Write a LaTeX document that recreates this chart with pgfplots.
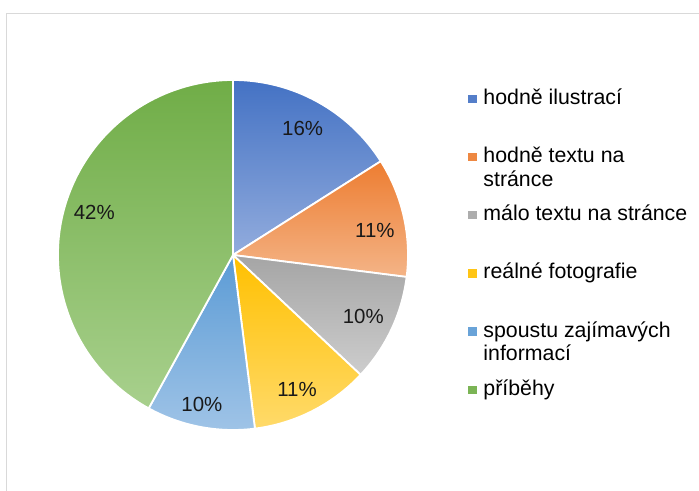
\documentclass[border=0pt]{standalone}
\usepackage{fontspec}
\setmainfont{Liberation Sans}
\usepackage{pgfplots}
\pgfplotsset{compat=1.18}

% slice colours: dark (top of slice) and light (bottom of slice)
\definecolor{c1a}{HTML}{4472C4}\definecolor{c1b}{HTML}{92ACDD}
\definecolor{c2a}{HTML}{ED7D31}\definecolor{c2b}{HTML}{F4B487}
\definecolor{c3a}{HTML}{A5A5A5}\definecolor{c3b}{HTML}{CDCDCD}
\definecolor{c4a}{HTML}{FFC000}\definecolor{c4b}{HTML}{FFDA6A}
\definecolor{c5a}{HTML}{5B9BD5}\definecolor{c5b}{HTML}{A0C4E7}
\definecolor{c6a}{HTML}{70AD47}\definecolor{c6b}{HTML}{A8D08D}

\newcommand\labelfont{\fontsize{20.5}{24}\selectfont}
\newcommand\legfont{\fontsize{21.4}{24}\selectfont}
% every legend row gets the same height, first line on the baseline
\newcommand\legentry[1]{%
  \addlegendentry[anchor=base west, inner sep=0pt,
    text height=16bp, text depth=42.2bp]{\parbox[t]{220bp}{\raggedright #1}}}

% #1 cumulative share before the slice (%), #2 share (%), #3/#4 colours,
% #5 label distance (fraction of radius), #6 label angle shift
\newcommand\pieslice[6]{%
  \pgfmathsetmacro\aA{90-3.6*#1}%
  \pgfmathsetmacro\aB{90-3.6*(#1+#2)}%
  \pgfmathsetmacro\aM{(\aA+\aB)/2+#6}%
  \pgfmathsetmacro\xA{cos(\aA)}%
  \pgfmathsetmacro\yA{sin(\aA)}%
  \pgfmathsetmacro\xL{#5*cos(\aM)}%
  \pgfmathsetmacro\yL{#5*sin(\aM)}%
  \edef\temp{%
    \noexpand\path[top color=#3, bottom color=#4, draw=white,
      line width=1.8bp, line join=round]
      (axis cs:0,0) -- (axis cs:\xA,\yA)
      arc[start angle=\aA, end angle=\aB, radius=175bp] -- cycle;
    \noexpand\node[font=\noexpand\labelfont, text=black!90]
      at (axis cs:\xL,\yL) {#2\noexpand\%};
  }\temp
}

\begin{document}
\begin{tikzpicture}
  \useasboundingbox (0,0) rectangle (699bp,491bp);
  \draw[black!15, line width=1.5bp] (6.5bp,0) -- (6.5bp,477.5bp) -- (699bp,477.5bp);
  \begin{axis}[
      at={(58bp,61bp)}, anchor=south west,
      scale only axis,
      width=350bp, height=350bp,
      xmin=-1, xmax=1, ymin=-1, ymax=1,
      enlargelimits=false,
      hide axis,
      clip=false,
      legend image code/.code={\fill[#1] (0bp,2bp) rectangle (7.5bp,9.5bp);},
      legend style={
        at={(axis description cs:1.171,0.977)}, anchor=north west,
        draw=none, fill=none, font=\legfont,
        row sep=0pt, inner sep=0pt,
        /tikz/every odd column/.append style={column sep=7.5bp},
      },
    ]
    \pieslice{0}{16}{c1a}{c1b}{0.826}{0}
    \pieslice{16}{11}{c2a}{c2b}{0.823}{-2.6}
    \pieslice{27}{10}{c3a}{c3b}{0.823}{0}
    \pieslice{37}{11}{c4a}{c4b}{0.85}{-1.5}
    \pieslice{48}{10}{c5a}{c5b}{0.87}{-1}
    \pieslice{58}{42}{c6a}{c6b}{0.83}{-2.8}

    \addlegendimage{c1a!80!c1b}
    \legentry{hodně ilustrací}
    \addlegendimage{c2a!80!c2b}
    \legentry{hodně textu na\\stránce}
    \addlegendimage{c3a!80!c3b}
    \legentry{málo textu na stránce}
    \addlegendimage{c4a!80!c4b}
    \legentry{reálné fotografie}
    \addlegendimage{c5a!80!c5b}
    \legentry{spoustu zajímavých\\informací}
    \addlegendimage{c6a!80!c6b}
    \legentry{příběhy}
  \end{axis}
\end{tikzpicture}
\end{document}
